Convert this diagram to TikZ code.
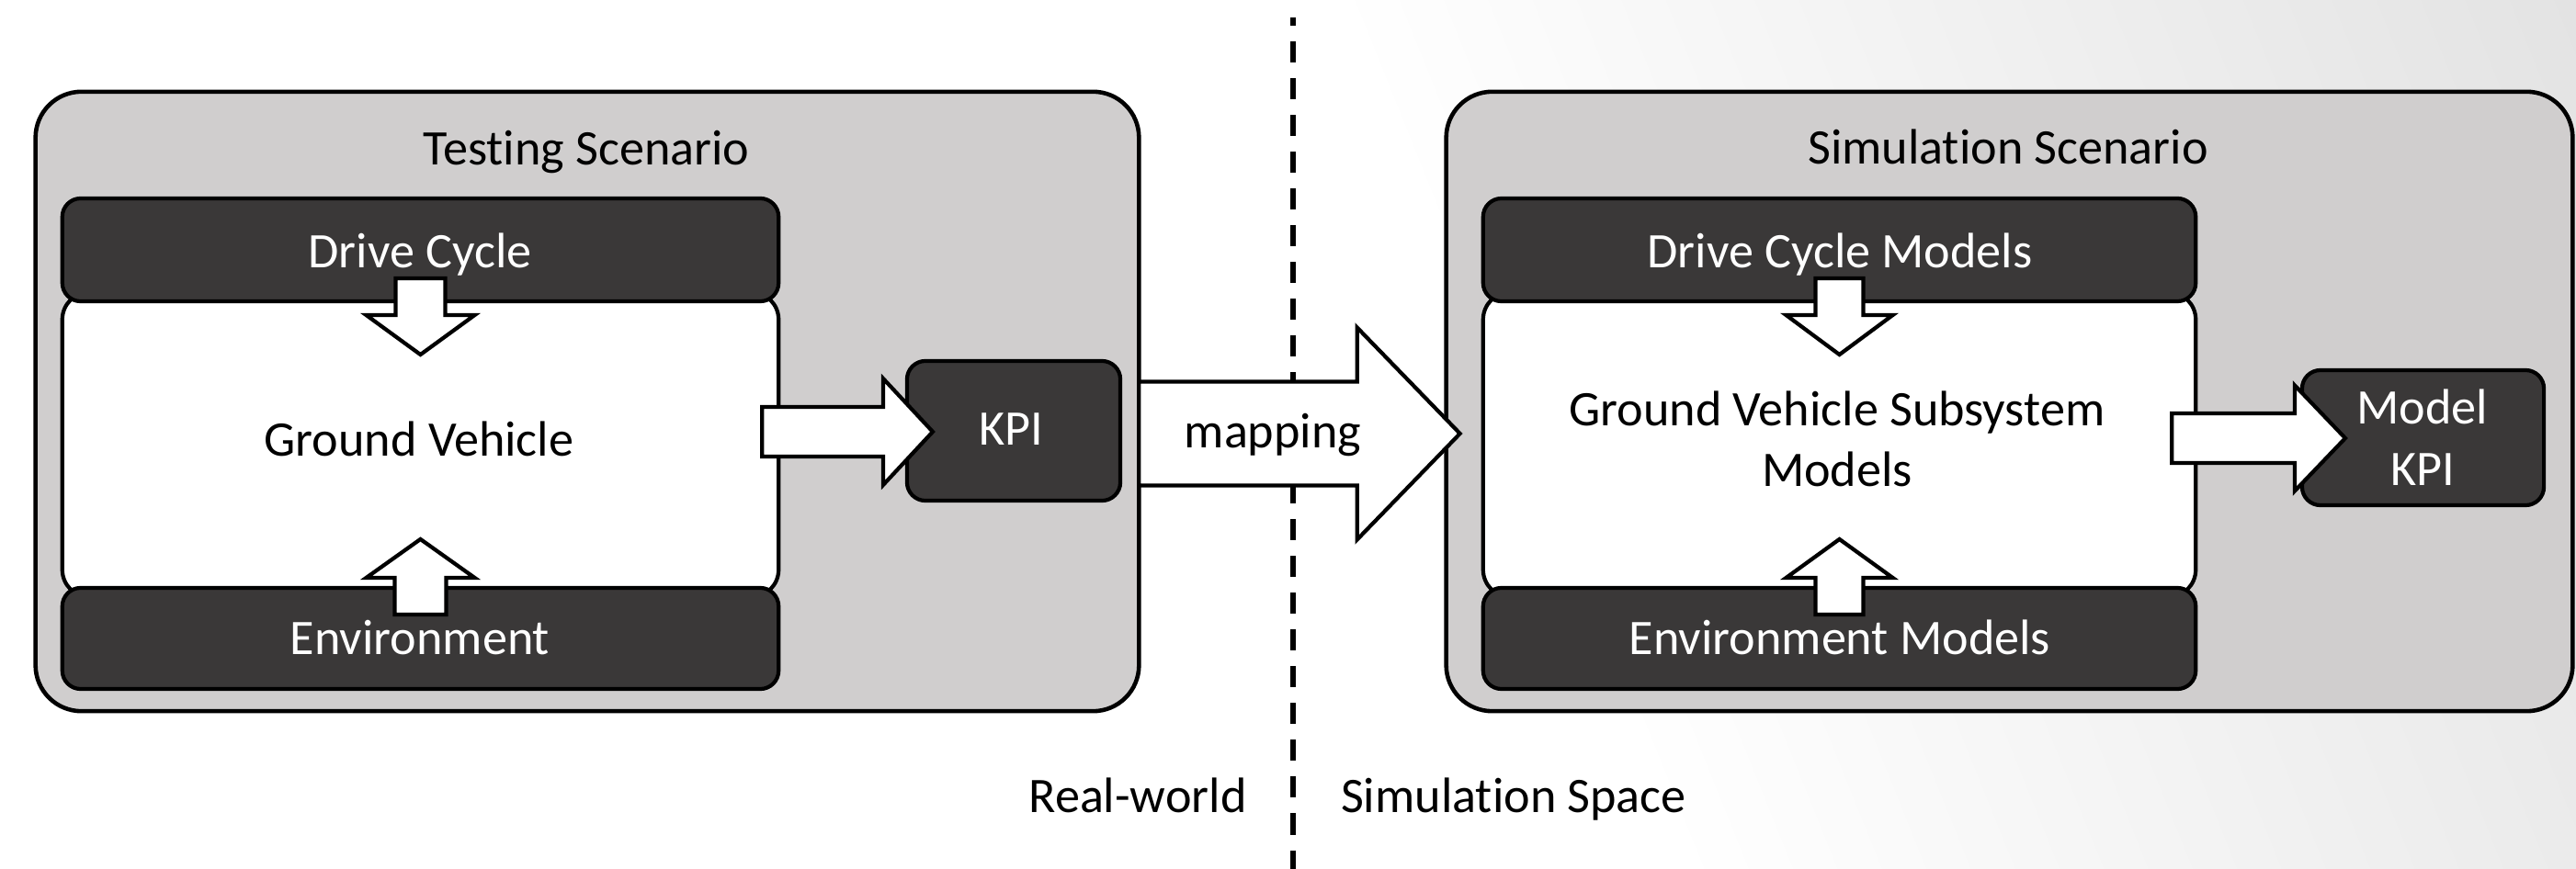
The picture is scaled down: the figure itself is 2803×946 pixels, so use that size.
\documentclass[tikz,border=0pt]{standalone}
\usepackage{fontspec}
\setmainfont{Carlito}[Ligatures={NoCommon}]
\usetikzlibrary{calc}

\definecolor{scenfill}{HTML}{D0CECE}
\definecolor{darkfill}{HTML}{3A3838}
\definecolor{bgedge}{HTML}{E2E2E2}

% two centred lines whose baseline is that of the first line
\newcommand\twolines[2]{\vtop{\baselineskip=18.8pt\halign{\hfil##\hfil\cr#1\cr#2\cr}}}

% block arrows: tail, tip, shaft half-width, head half-width, head length
\newcommand\blockright[5]{\draw[blockarrow] ($(#1)+(0,-#3)$) -- ($(#2)+(-#5,-#3)$) -- ($(#2)+(-#5,-#4)$) -- (#2) -- ($(#2)+(-#5,#4)$) -- ($(#2)+(-#5,#3)$) -- ($(#1)+(0,#3)$) -- cycle;}
\newcommand\blockdown[5]{\draw[blockarrow] ($(#1)+(-#3,0)$) -- ($(#2)+(-#3,-#5)$) -- ($(#2)+(-#4,-#5)$) -- (#2) -- ($(#2)+(#4,-#5)$) -- ($(#2)+(#3,-#5)$) -- ($(#1)+(#3,0)$) -- cycle;}
\newcommand\blockup[5]{\draw[blockarrow] ($(#1)+(-#3,0)$) -- ($(#2)+(-#3,#5)$) -- ($(#2)+(-#4,#5)$) -- (#2) -- ($(#2)+(#4,#5)$) -- ($(#2)+(#3,#5)$) -- ($(#1)+(#3,0)$) -- cycle;}

\tikzset{
  scenario/.style={draw=black, line width=1.3pt, fill=scenfill, rounded corners=0.5cm, inner sep=0pt, outer sep=0pt},
  whitebox/.style={draw=black, line width=1.2pt, fill=white, rounded corners=0.3cm, inner sep=0pt, outer sep=0pt},
  darkbox/.style={draw=black, line width=1.2pt, fill=darkfill, rounded corners=0.2cm, inner sep=0pt, outer sep=0pt},
  blockarrow/.style={draw=black, line width=1.2pt, fill=white, line join=miter},
  lbl/.style={anchor=base, inner sep=0pt, outer sep=0pt, font=\fontsize{15.4pt}{18.8pt}\selectfont},
  lblw/.style={lbl, text=white},
  divider/.style={draw=black, line width=1.7pt, dash pattern=on 0.23cm off 0.17cm, dash phase=0.14cm}
}

\begin{document}
\begin{tikzpicture}[x=0.01cm, y=-0.01cm]
\useasboundingbox (0,0) rectangle (2803,946);

% background: white, fading to light grey towards the right
\fill[white] (0,0) rectangle (2803,946);
\begin{scope}
  \clip (0,0) rectangle (2803,946);
  \begin{scope}[transform canvas={shift={(1450,0)}, rotate=21.9}]
    \shade[left color=white, right color=bgedge] (0,-3000) rectangle (1300,3000);
    \fill[bgedge] (1299,-3000) rectangle (3000,3000);
  \end{scope}
\end{scope}

% divider between real world and simulation space
\coordinate (div-top) at (1407,19);
\coordinate (div-bot) at (1407,946);
\draw[divider] (div-top) -- (div-bot);

% real-world side
\node[scenario, minimum width=12cm, minimum height=6.74cm] (tsc) at (639,437) {};
\node[whitebox, minimum width=7.79cm, minimum height=3.32cm] (gv) at (457.5,484) {};
\node[darkbox, minimum width=7.79cm, minimum height=1.12cm] (dc) at (457.5,272) {};
\node[darkbox, minimum width=7.79cm, minimum height=1.10cm] (env) at (457.5,695) {};
\node[darkbox, minimum width=2.32cm, minimum height=1.52cm] (kpi) at (1103,469) {};

% simulation side
\node[scenario, minimum width=12.25cm, minimum height=6.74cm] (ssc) at (2186.5,437) {};
\node[whitebox, minimum width=7.75cm, minimum height=3.32cm] (gvm) at (2001.5,484) {};
\node[darkbox, minimum width=7.75cm, minimum height=1.12cm] (dcm) at (2001.5,272) {};
\node[darkbox, minimum width=7.75cm, minimum height=1.10cm] (envm) at (2001.5,695) {};
\node[darkbox, minimum width=2.63cm, minimum height=1.47cm] (mkpi) at (2636.5,476.5) {};

% arrow end points
\coordinate (dc-tail) at ($(dc.south)+(0,-25)$);
\coordinate (dc-tip) at ($(dc.south)+(0,58)$);
\coordinate (env-tail) at ($(env.north)+(0,29)$);
\coordinate (env-tip) at ($(env.north)+(0,-53)$);
\coordinate (gv-out) at ($(gv.east)+(-18,-14)$);
\coordinate (kpi-in) at ($(kpi.west)+(28,1)$);
\coordinate (map-tail) at ($(tsc.east)+(0,35)$);
\coordinate (map-tip) at ($(ssc.west)+(15,35)$);
\coordinate (dcm-tail) at ($(dcm.south)+(0,-25)$);
\coordinate (dcm-tip) at ($(dcm.south)+(0,58)$);
\coordinate (envm-tail) at ($(envm.north)+(0,29)$);
\coordinate (envm-tip) at ($(envm.north)+(0,-53)$);
\coordinate (gvm-out) at ($(gvm.east)+(-26,-7)$);
\coordinate (mkpi-in) at ($(mkpi.west)+(47,0.5)$);

% block arrows
\blockdown{dc-tail}{dc-tip}{27}{59}{43}
\blockup{env-tail}{env-tip}{28}{59}{42}
\blockright{gv-out}{kpi-in}{27}{58}{54}
\blockright{map-tail}{map-tip}{56.5}{115.5}{112}
\blockdown{dcm-tail}{dcm-tip}{26}{58}{43}
\blockup{envm-tail}{envm-tip}{26}{58}{42}
\blockright{gvm-out}{mkpi-in}{27}{57.5}{55}

% labels
\node[lbl] (t-tsc) at (638,180) {Testing Scenario};
\node[lbl] (t-ssc) at (2185,179) {Simulation Scenario};
\node[lblw] (t-dc) at (457,292) {Drive Cycle};
\node[lbl] (t-gv) at (456,497) {Ground Vehicle};
\node[lblw] (t-env) at (457,712) {Environment};
\node[lblw] (t-kpi) at (1100,485) {KPI};
\node[lbl] (t-map) at (1385,488) {mapping};
\node[lblw] (t-dcm) at (2002,292) {Drive Cycle Models};
\node[lbl] (t-gvm) at (1999,463) {\twolines{Ground Vehicle Subsystem}{Models}};
\node[lblw] (t-envm) at (2002,712) {Environment Models};
\node[lblw] (t-mkpi) at (2636,462) {\twolines{Model}{KPI}};
\node[lbl] (t-real) at (1238,884) {Real-world};
\node[lbl] (t-sim) at (1647,884) {Simulation Space};
\end{tikzpicture}
\end{document}
